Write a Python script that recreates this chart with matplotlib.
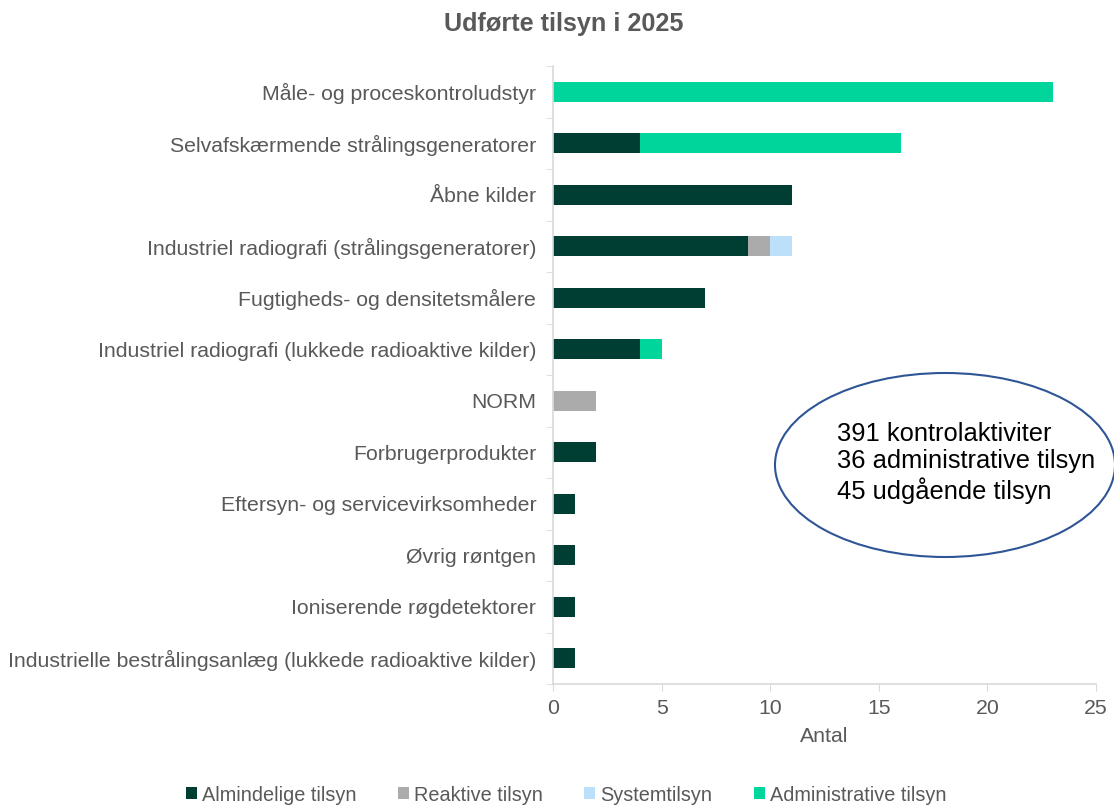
import matplotlib.pyplot as plt
import numpy as np
from matplotlib.patches import Ellipse

plt.rcParams['font.family'] = ['Liberation Sans', 'DejaVu Sans']

# Kategorier (oppefra og ned)
kategorier = [
    "Måle- og proceskontroludstyr",
    "Selvafskærmende strålingsgeneratorer",
    "Åbne kilder",
    "Industriel radiografi (strålingsgeneratorer)",
    "Fugtigheds- og densitetsmålere",
    "Industriel radiografi (lukkede radioaktive kilder)",
    "NORM",
    "Forbrugerprodukter",
    "Eftersyn- og servicevirksomheder",
    "Øvrig røntgen",
    "Ioniserende røgdetektorer",
    "Industrielle bestrålingsanlæg (lukkede radioaktive kilder)",
]
almindelige = [0, 4, 11, 9, 7, 4, 0, 2, 1, 1, 1, 1]
reaktive = [0, 0, 0, 1, 0, 0, 2, 0, 0, 0, 0, 0]
system = [0, 0, 0, 1, 0, 0, 0, 0, 0, 0, 0, 0]
administrative = [23, 12, 0, 0, 0, 1, 0, 0, 0, 0, 0, 0]

serier = [
    ("Almindelige tilsyn", almindelige, "#003D33"),
    ("Reaktive tilsyn", reaktive, "#ABABAB"),
    ("Systemtilsyn", system, "#BDE0FA"),
    ("Administrative tilsyn", administrative, "#00D69B"),
]

infotekst = "391 kontrolaktiviter\n36 administrative tilsyn\n45 udgående tilsyn"

grå = "#595959"
linjefarve = "#D9D9D9"
fs = 15.3

fig = plt.figure(figsize=(11.14, 8.05), dpi=100)
ax = fig.add_axes([553 / 1114, 1 - 684 / 805, (1096 - 553) / 1114, (684 - 66) / 805])

y = np.arange(len(kategorier))
venstre = np.zeros(len(kategorier))
for navn, vaerdier, farve in serier:
    v = np.array(vaerdier, dtype=float)
    ax.barh(y, v, left=venstre, height=0.39, color=farve, label=navn)
    venstre += v

ax.set_ylim(len(kategorier) - 0.5, -0.5)
ax.set_xlim(0, 25)
ax.set_xticks(np.arange(0, 26, 5))
ax.set_yticks(y)
ax.set_yticklabels(kategorier)
ax.set_yticks(np.arange(-0.5, len(kategorier)), minor=True)
ax.tick_params(axis="y", which="major", length=0, pad=12, labelsize=fs, labelcolor=grå)
ax.tick_params(axis="y", which="minor", length=5, color=linjefarve)
ax.tick_params(axis="x", which="major", length=5, color=linjefarve, labelsize=fs,
               labelcolor=grå, pad=6)

for side in ["top", "right"]:
    ax.spines[side].set_visible(False)
for side in ["left", "bottom"]:
    ax.spines[side].set_color(linjefarve)
    ax.spines[side].set_linewidth(1.2)

ax.set_xlabel("Antal", fontsize=fs, color=grå, labelpad=6)

fig.suptitle("Udførte tilsyn i 2025", x=0.506, y=1 - 24 / 805, va="center",
             fontsize=18.2, fontweight="bold", color=grå)

# Ellipse med nøgletal
ell = Ellipse((945 / 1114, 1 - 465 / 805), 340 / 1114, 184 / 805,
              transform=fig.transFigure, facecolor="white", edgecolor="#2F5597",
              linewidth=1.5, clip_on=False)
fig.add_artist(ell)
fig.text(837 / 1114, 1 - 463 / 805, infotekst, fontsize=18.4, color="black",
         va="center", ha="left", linespacing=1.18)

fig.legend(loc="center", bbox_to_anchor=(0.508, 1 - 795 / 805), ncol=4, frameon=False,
           handlelength=0.55, handleheight=0.55, handletextpad=0.25, columnspacing=2.1,
           fontsize=14.3, labelcolor=grå)

fig.savefig("out.png", dpi=100)
